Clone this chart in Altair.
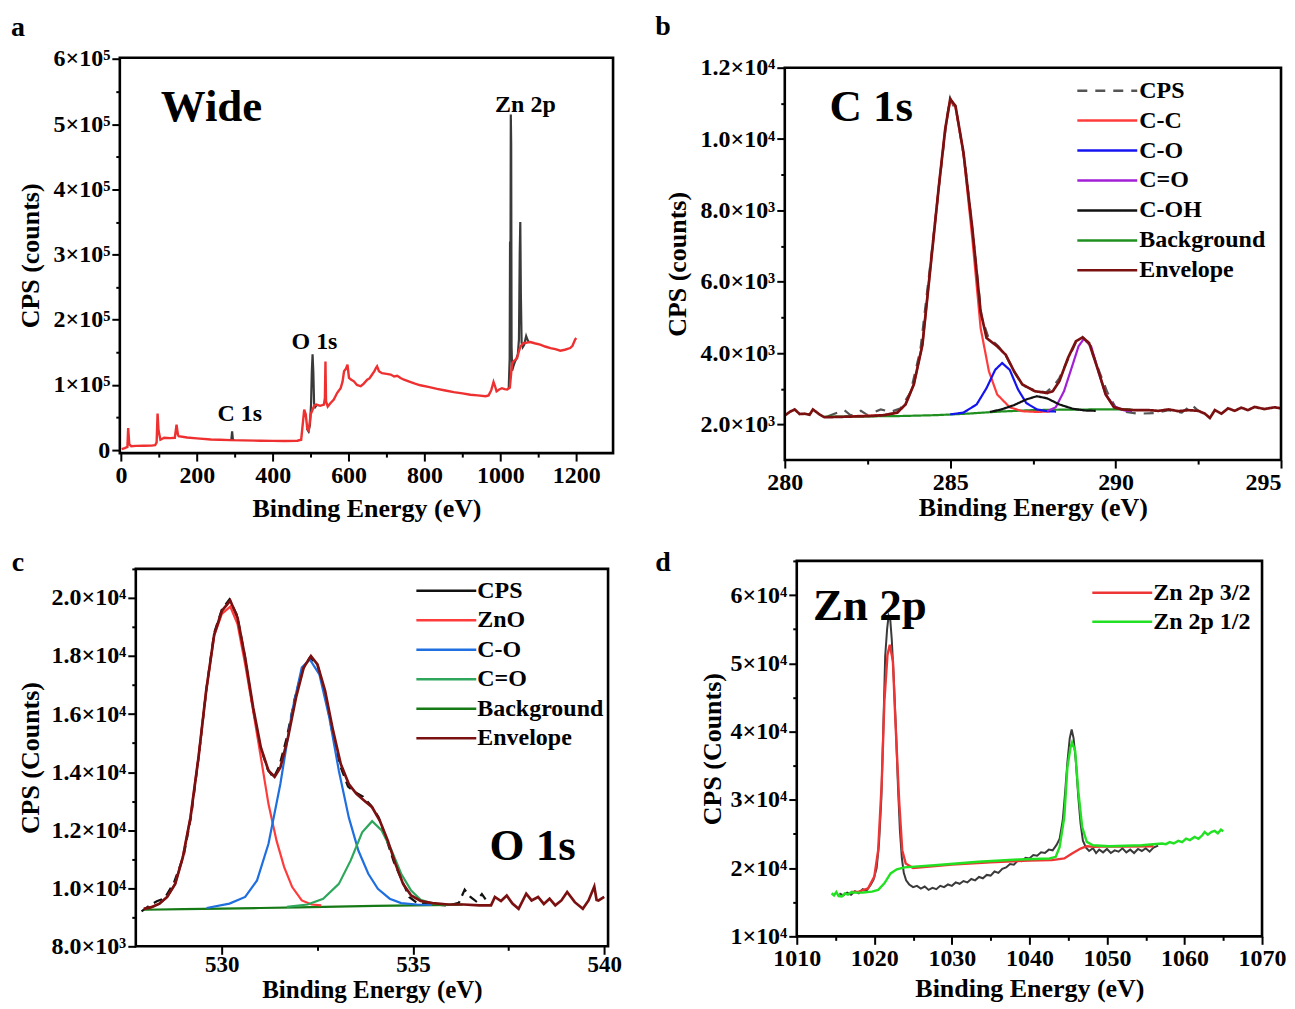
import altair as alt
import pandas as pd

FONT = "Liberation Serif"

# ===================== Panel a : wide survey =====================
A_RED = [
    (2, 1500), (10, 3000), (17, 5000), (19, 34000), (22, 9000), (27, 6100), (40, 6500), (60, 6800),
    (80, 7000), (90, 7600), (94, 12000), (96.5, 56000), (99, 30000), (104, 16000), (114, 19000),
    (130, 18500), (142, 19000), (146.5, 39000), (150, 24000), (152, 21400), (174, 19400), (200, 18000),
    (237, 16400), (260, 16000), (289, 15300), (320, 15000), (368, 14500), (400, 14200), (430, 14000),
    (465, 14500), (475, 16000), (480, 45000), (483, 62000), (487, 55000), (491, 33000), (495, 30000),
    (500, 55000), (505, 62000), (509, 68000), (515, 70000), (525, 68000), (535, 70000), (537.5, 80000),
    (539, 136000), (540.5, 75000), (545, 67000), (552, 72000), (561, 77600), (570, 88000), (579, 95000),
    (584, 105000), (588, 121000), (593, 125000), (597, 131000), (601, 110700), (607, 108000),
    (614, 105600), (622, 100000), (632, 98000), (640, 102000), (649, 108000), (655, 110000),
    (662, 116000), (668, 121000), (672, 126000), (675, 128600), (680, 121000), (688, 118000),
    (700, 117000), (711, 116000), (720, 113000), (728, 114000), (737, 110700), (746, 108000),
    (760, 105000), (775, 102000), (789, 99500), (810, 97000), (833, 94000), (855, 91500), (877, 89000),
    (900, 87000), (921, 85000), (940, 84000), (961, 82700), (969, 84000), (976, 92000), (982, 104600),
    (986, 98000), (990, 90300), (997, 93000), (1004, 95000), (1011, 93500), (1018, 93000),
    (1025, 96000), (1028, 115000), (1031, 133700), (1036, 137000), (1040, 139000), (1044, 141000),
    (1048, 150000), (1053, 159000), (1057, 162000), (1061, 164000), (1070, 165000), (1079, 165800),
    (1090, 164000), (1105, 162000), (1118, 159000), (1132, 156600), (1145, 155000), (1158, 152600),
    (1170, 154000), (1184, 156600), (1190, 160000), (1197, 169500), (1200, 172000),
]
A_BLK_C1S = [(287, 15300), (291, 16500), (293, 29000), (295, 16000), (299, 15200)]
A_BLK_O1S = [(490, 33000), (494, 29000), (498, 38000), (501, 70000), (503, 120000), (505, 147000),
             (507, 120000), (509, 72000), (512, 66000), (516, 69000)]
A_BLK_ZN = [(1022, 94000), (1024.5, 140000), (1025.5, 320000), (1026.5, 250000), (1027.5, 515000),
            (1028.5, 470000), (1029.5, 160000), (1031, 122000), (1034, 128000), (1038, 135000),
            (1042, 140000), (1046, 147000), (1049, 170000), (1051, 300000), (1052.5, 350000),
            (1054, 240000), (1056, 165000), (1059, 158000), (1063, 162000), (1066, 170000),
            (1068, 175000), (1071, 170000), (1075, 166000)]
A_BIG_TEXT = ["Wide"]
A_BIG_POS = [(105, 527000)]
A_PEAK_TEXT = ["Zn 2p", "O 1s", "C 1s"]
A_PEAK_POS = [(1066, 530000), (510, 165500), (313, 55200)]
A_XDOM = [-3, 1297]
A_YDOM = [-4500, 602000]

# ===================== Panel b : C 1s =====================
B_NAMES = ["CPS", "C-C", "C-O", "C=O", "C-OH", "Background", "Envelope"]
B_COLORS = ["#555555", "#ff3b3b", "#1414f0", "#a21fd6", "#111111", "#1f8f1f", "#7a1010"]
B_ENVELOPE = [
    (280.0, 2250), (280.15, 2350), (280.3, 2420), (280.45, 2290), (280.6, 2300), (280.75, 2270),
    (280.85, 2420), (280.95, 2350), (281.05, 2280), (281.2, 2200), (281.6, 2210), (282.0, 2220),
    (282.5, 2230), (283.0, 2260), (283.4, 2330), (283.65, 2560), (283.9, 3120), (284.16, 4230),
    (284.4, 6370), (284.66, 8700), (284.85, 10280), (285.0, 11120), (285.16, 10930), (285.4, 9630),
    (285.67, 7490), (285.92, 5160), (286.1, 4420), (286.42, 4190), (286.68, 3950), (286.93, 3490),
    (287.18, 3120), (287.56, 2930), (287.93, 2880), (288.1, 2930), (288.3, 3210), (288.56, 3860),
    (288.8, 4330), (289.0, 4440), (289.2, 4280), (289.45, 3580), (289.7, 2840), (289.95, 2480),
    (290.2, 2420), (290.6, 2400), (291.0, 2400), (291.3, 2380), (291.6, 2420), (291.9, 2370),
    (292.2, 2400), (292.5, 2380), (292.7, 2300), (292.85, 2180), (293.0, 2400), (293.2, 2300),
    (293.4, 2450), (293.6, 2380), (293.8, 2470), (294.0, 2400), (294.2, 2490), (294.5, 2430),
    (294.8, 2480), (295.0, 2450),
]
B_CPS = [
    (281.3, 2230), (281.8, 2400), (282.0, 2250), (282.3, 2380), (282.5, 2260), (282.9, 2420),
    (283.2, 2350), (283.5, 2450), (283.8, 2900), (284.1, 4100), (284.4, 6500), (284.7, 9000),
    (284.9, 10600), (285.0, 11150), (285.2, 10700), (285.45, 9300), (285.7, 7200), (285.95, 5000),
    (286.15, 4450), (286.45, 4200), (286.7, 3900), (286.95, 3450), (287.2, 3100), (287.55, 2950),
    (287.9, 2900), (288.15, 3100), (288.3, 3300), (288.6, 3900), (288.8, 4300), (289.0, 4450),
    (289.2, 4250), (289.5, 3500), (289.75, 2900), (290.0, 2480), (290.3, 2350), (290.7, 2300),
    (291.2, 2320), (291.6, 2400), (292.0, 2330), (292.3, 2550), (292.5, 2380),
]
B_CC = [(282.0, 2230), (283.0, 2260), (283.4, 2330), (283.65, 2560), (283.9, 3120), (284.16, 4230),
        (284.4, 6370), (284.66, 8700), (284.85, 10280), (285.0, 11080), (285.16, 10900), (285.4, 9600),
        (285.67, 7200), (285.92, 4700), (286.17, 3490), (286.42, 2840), (286.8, 2480), (287.18, 2370),
        (287.6, 2350), (288.0, 2360)]
B_CO = [(285.0, 2280), (285.4, 2330), (285.8, 2560), (286.1, 3020), (286.36, 3530), (286.57, 3720),
        (286.8, 3530), (287.05, 2980), (287.3, 2600), (287.62, 2420), (287.93, 2370), (288.2, 2360)]
B_COH = [(286.2, 2350), (286.55, 2420), (286.93, 2540), (287.3, 2700), (287.62, 2790), (287.93, 2730),
         (288.3, 2560), (288.7, 2440), (289.07, 2390), (289.4, 2380)]
B_CdO = [(287.93, 2370), (288.19, 2480), (288.44, 2930), (288.7, 3670), (288.88, 4190), (289.04, 4400),
         (289.26, 4190), (289.45, 3580), (289.7, 2840), (289.95, 2510), (290.26, 2390), (290.5, 2380)]
B_BG = [(281.2, 2220), (282.5, 2225), (283.5, 2235), (284.6, 2260), (285.5, 2300), (286.5, 2360),
        (287.5, 2400), (288.5, 2415), (289.5, 2420), (290.45, 2420)]
B_TEXT = ["C 1s"]
B_TEXT_POS = [(281.35, 10900)]
B_XDOM = [280, 295]
B_YDOM = [1000, 12000]

# ===================== Panel c : O 1s =====================
C_NAMES = ["CPS", "ZnO", "C-O", "C=O", "Background", "Envelope"]
C_COLORS = ["#111111", "#ff3b3b", "#1f6fe0", "#2ea65c", "#157a15", "#7a1010"]
C_ENVELOPE = [
    (527.96, 9290), (528.16, 9350), (528.37, 9470), (528.57, 9700), (528.78, 10150), (528.98, 11070),
    (529.18, 12440), (529.39, 14510), (529.59, 16800), (529.8, 18740), (530.0, 19550), (530.22, 19910),
    (530.41, 19320), (530.61, 17940), (530.82, 16220), (531.02, 14850), (531.22, 14050),
    (531.38, 13840), (531.53, 14160), (531.73, 15190), (531.94, 16570), (532.14, 17600),
    (532.33, 18000), (532.5, 17710), (532.7, 16800), (532.91, 15420), (533.11, 14280),
    (533.32, 13590), (533.52, 13250), (533.72, 13020), (533.93, 12790), (534.13, 12330),
    (534.34, 11640), (534.54, 10840), (534.74, 10150), (534.95, 9750), (535.2, 9560), (535.51, 9490),
    (535.92, 9440), (536.33, 9440), (536.73, 9410), (537.04, 9410), (537.14, 9700), (537.3, 9560),
    (537.45, 9750), (537.6, 9470), (537.76, 9290), (537.96, 9810), (538.1, 9580), (538.27, 9700),
    (538.42, 9460), (538.57, 9640), (538.72, 9410), (538.88, 9580), (539.03, 9870), (539.23, 9520),
    (539.44, 9290), (539.59, 9580), (539.74, 10060), (539.8, 9600), (539.85, 9580), (540.0, 9700),
]
C_CPS = [
    (527.9, 9200), (528.1, 9400), (528.3, 9550), (528.5, 9650), (528.75, 10200), (529.0, 11100),
    (529.2, 12500), (529.4, 14600), (529.6, 16900), (529.8, 18800), (530.0, 19600), (530.2, 19950),
    (530.4, 19400), (530.6, 18000), (530.8, 16300), (531.0, 14900), (531.2, 14100), (531.35, 13800),
    (531.5, 14200), (531.7, 15200), (531.9, 16500), (532.1, 17500), (532.3, 17950), (532.5, 17700),
    (532.7, 16700), (532.9, 15300), (533.1, 14200), (533.3, 13500), (533.5, 13300), (533.7, 13150),
    (533.9, 12850), (534.1, 12450), (534.3, 11700), (534.5, 10900), (534.7, 10300), (534.9, 9700),
    (535.1, 9500), (535.5, 9450), (535.9, 9400), (536.2, 9500), (536.35, 9950), (536.5, 9700),
    (536.65, 9550), (536.8, 9800), (537.0, 9420),
]
C_ZNO = [(527.96, 9290), (528.16, 9350), (528.37, 9470), (528.57, 9700), (528.78, 10150),
         (528.98, 11070), (529.18, 12440), (529.39, 14510), (529.59, 16800), (529.8, 18700),
         (530.0, 19450), (530.22, 19700), (530.41, 19100), (530.61, 17710), (530.82, 16100),
         (531.02, 14510), (531.22, 12900), (531.43, 11640), (531.63, 10730), (531.84, 10040),
         (532.09, 9580), (532.35, 9440), (532.6, 9410)]
C_CO = [(529.6, 9320), (530.2, 9470), (530.61, 9700), (530.92, 10270), (531.22, 11530), (531.53, 13590),
        (531.84, 16110), (532.09, 17600), (532.3, 17880), (532.55, 17370), (532.81, 15880),
        (533.06, 14050), (533.32, 12440), (533.57, 11300), (533.83, 10500), (534.08, 9980),
        (534.39, 9640), (534.69, 9490), (535.1, 9440), (535.5, 9430)]
C_CdO = [(531.7, 9360), (532.24, 9440), (532.65, 9640), (533.06, 10150), (533.37, 10960),
         (533.67, 11930), (533.93, 12310), (534.18, 11990), (534.44, 11300), (534.69, 10500),
         (534.95, 9920), (535.2, 9600), (535.51, 9470), (535.82, 9440), (536.1, 9430)]
C_BG = [(527.96, 9260), (529.0, 9280), (530.0, 9300), (531.0, 9320), (532.0, 9340), (533.0, 9370),
        (534.0, 9390), (535.0, 9410), (536.0, 9430), (536.3, 9440)]
C_TEXT = ["O 1s"]
C_TEXT_POS = [(537.0, 11470)]
C_XDOM = [527.75, 540.1]
C_YDOM = [8000, 21000]

# ===================== Panel d : Zn 2p =====================
D_NAMES = ["Zn 2p 3/2", "Zn 2p 1/2"]
D_COLORS = ["#ee3535", "#22e022"]
D_RAW = [
    (1015.5, 16300), (1016.0, 16000), (1016.5, 16400), (1017.0, 16100), (1017.5, 16600), (1018.0, 16300),
    (1018.5, 16900), (1019.0, 16700), (1019.5, 17500), (1019.9, 18300), (1020.3, 20000), (1020.6, 23500),
    (1020.9, 30000), (1021.15, 40000), (1021.4, 51000), (1021.65, 55000), (1021.85, 57000),
    (1022.05, 56500), (1022.25, 53500), (1022.5, 48000), (1022.8, 40000), (1023.05, 32000),
    (1023.3, 25500), (1023.55, 21500), (1023.8, 19300), (1024.1, 18200), (1024.5, 17600),
    (1025.0, 17200), (1025.5, 17400), (1026.0, 17000), (1026.5, 17300), (1027.0, 16800),
    (1027.5, 17100), (1028.0, 16900), (1028.5, 17400), (1029.0, 17200), (1029.5, 17600),
    (1030.0, 17400), (1030.5, 17900), (1031.0, 17700), (1031.5, 18100), (1032.0, 17900),
    (1032.5, 18400), (1033.0, 18200), (1033.5, 18700), (1034.0, 18500), (1034.5, 19000),
    (1035.0, 18900), (1035.5, 19500), (1036.0, 19300), (1036.5, 19900), (1037.0, 20100),
    (1037.5, 20600), (1038.0, 20500), (1038.5, 21100), (1039.0, 21000), (1039.5, 21500),
    (1040.0, 21400), (1040.5, 21900), (1041.0, 21800), (1041.5, 22300), (1042.0, 22200),
    (1042.5, 22700), (1043.0, 22600), (1043.5, 23400), (1043.9, 24300), (1044.3, 27000),
    (1044.6, 31000), (1044.9, 35500), (1045.2, 39000), (1045.45, 40300), (1045.7, 39000),
    (1046.0, 35500), (1046.3, 30500), (1046.6, 26500), (1046.9, 24000), (1047.3, 23000),
    (1047.7, 22500), (1048.2, 22900), (1048.6, 22200), (1049.0, 22700), (1049.5, 22300),
    (1050.0, 22800), (1050.5, 22200), (1051.0, 22600), (1051.5, 22400), (1052.0, 22900),
    (1052.5, 22300), (1053.0, 22700), (1053.5, 22200), (1054.0, 22800), (1054.5, 22500),
    (1055.0, 22900), (1055.5, 22400), (1056.0, 23000), (1056.6, 23300),
]
D_P32 = [(1017.0, 16500), (1018.0, 16550), (1019.2, 17040), (1020.0, 18740), (1020.5, 22620),
         (1020.95, 32330), (1021.3, 44470), (1021.7, 51260), (1022.0, 52720), (1022.4, 50290),
         (1022.7, 42040), (1023.2, 29900), (1023.6, 22620), (1024.05, 20680), (1025.0, 20000),
         (1030.0, 20500), (1035.0, 20850), (1040.0, 21100), (1042.9, 21170), (1044.5, 21410),
         (1045.5, 22140), (1046.6, 22860), (1047.4, 23200), (1048.4, 23110), (1049.2, 23150),
         (1052.0, 23150), (1056.0, 23200)]
D_P12 = [(1014.5, 16310), (1014.8, 16000), (1015.1, 16500), (1015.4, 15900), (1015.8, 15830),
         (1016.2, 16300), (1016.6, 16100), (1017.0, 16450), (1017.6, 16410), (1018.5, 16420),
         (1019.7, 16550), (1020.5, 16800), (1021.3, 17770), (1022.1, 19220), (1022.9, 19810),
         (1023.9, 20100), (1028.2, 20440), (1033.4, 20920), (1038.7, 21260), (1042.6, 21410),
         (1043.4, 21650), (1043.9, 23110), (1044.5, 27480), (1044.9, 34760), (1045.3, 37670),
         (1045.5, 38400), (1045.9, 37180), (1046.3, 31360), (1046.8, 26020), (1047.4, 23830),
         (1048.2, 23350), (1050.3, 23200), (1054.5, 23350), (1057.1, 23590), (1057.6, 23500),
         (1058.1, 23800), (1058.6, 23600), (1059.2, 23980), (1059.7, 23800), (1060.2, 24300),
         (1060.7, 24100), (1061.3, 24560), (1061.8, 24300), (1062.3, 24800), (1062.6, 25290),
         (1063.0, 24900), (1063.5, 25300), (1063.9, 25440), (1064.3, 25100), (1064.7, 25630),
         (1065.0, 25400)]
D_TEXT = ["Zn 2p"]
D_TEXT_POS = [(1012.1, 58400)]
D_XDOM = [1010, 1070]
D_YDOM = [10000, 65000]


# ===================== helpers =====================
def frame(points, name="", field="s", seg=0):
    return pd.DataFrame({"E": [p[0] for p in points], "v": [p[1] for p in points],
                         field: name, "seg": seg, "i": list(range(len(points)))})


def text_frame(texts, pos):
    return pd.DataFrame({"t": texts, "E": [p[0] for p in pos], "v": [p[1] for p in pos]})


def axis(values, major_test, label_expr, title, title_pad, orient, offset=0, label_align=None,
         label_pad=2, label_size=24, title_size=26):
    kw = dict(values=values, labelExpr=label_expr, title=title, titlePadding=title_pad,
              orient=orient, offset=offset, labelPadding=label_pad,
              labelFontSize=label_size, titleFontSize=title_size,
              tickSize={"condition": {"test": "!(" + major_test + ")", "value": 4}, "value": 8})
    if label_align:
        kw["labelAlign"] = label_align
    return alt.Axis(**kw)


def legend(lx, ly, row_pad, label_offset):
    return alt.Legend(title=None, orient="none", legendX=lx, legendY=ly,
                      symbolType="M-1,0H9", symbolSize=144, symbolStrokeWidth=2.5,
                      labelFont=FONT, labelFontSize=24, labelFontWeight="bold", labelColor="black",
                      labelOffset=label_offset, rowPadding=row_pad, padding=0)


def letter(ch, x, y):
    return alt.Chart(pd.DataFrame({"t": [ch]})).mark_text(
        font=FONT, fontWeight="bold", fontSize=28, align="center", baseline="middle", color="black"
    ).encode(text="t:N", x=alt.value(x), y=alt.value(y))


def big_text(df, X, Y, size=45, align="left"):
    return alt.Chart(df).mark_text(font=FONT, fontWeight="bold", fontSize=size, align=align,
                                   baseline="middle", color="black").encode(x=X("E"), y=Y("v"), text="t:N")


def box(xdom, ydom, X, Y):
    # plot frame drawn through the panel's own scales at the domain extremes
    df = pd.DataFrame({"x1": [xdom[0]], "x2": [xdom[1]], "y1": [ydom[0]], "y2": [ydom[1]]})
    return alt.Chart(df).mark_rect(filled=False, stroke="black", strokeWidth=2.6, color="black").encode(
        x=X("x1"), x2="x2:Q", y=Y("y1"), y2="y2:Q")


def make_xy(xdom, ydom, xrange_, yrange_, ax, ay):
    xs = alt.Scale(domain=xdom, range=xrange_, nice=False, zero=False)
    ys = alt.Scale(domain=ydom, range=yrange_, nice=False, zero=False)
    return (lambda f: alt.X(f + ":Q", scale=xs, axis=ax, title=ax["title"])), \
           (lambda f: alt.Y(f + ":Q", scale=ys, axis=ay, title=ay["title"]))


# ===================== panel a =====================  (view 494 x 396)
ax_a = axis(list(range(0, 1301, 100)), "datum.value % 200 == 0",
            "datum.value % 200 == 0 ? format(datum.value, 'd') : ''",
            "Binding Energy (eV)", 9, "bottom")
ay_a = axis(list(range(0, 600001, 50000)), "datum.value % 100000 == 0",
            "datum.value % 100000 != 0 ? '' : (datum.value == 0 ? '0' : format(datum.value/100000, 'd') + '×10⁵')",
            "CPS (counts)", 10, "left")
XA, YA = make_xy(A_XDOM, A_YDOM, [0, 494], [396, 0], ax_a, ay_a)

a_black = pd.concat([frame(A_BLK_C1S, seg=0), frame(A_BLK_O1S, seg=1), frame(A_BLK_ZN, seg=2)])
layer_a = alt.layer(
    alt.Chart(a_black).mark_line(color="#3a3a3a", strokeWidth=2.2, clip=True).encode(
        x=XA("E"), y=YA("v"), detail="seg:N", order="i:Q"),
    alt.Chart(frame(A_RED)).mark_line(color="#ee3030", strokeWidth=2.4, clip=True).encode(
        x=XA("E"), y=YA("v"), order="i:Q"),
    box(A_XDOM, A_YDOM, XA, YA),
    big_text(text_frame(A_BIG_TEXT, A_BIG_POS), XA, YA, 45),
    big_text(text_frame(A_PEAK_TEXT, A_PEAK_POS), XA, YA, 24, "center"),
    letter("a", -102, -30),
    alt.Chart(pd.DataFrame({"k": [0]})).mark_rule(opacity=0, strokeWidth=0.01).encode(
        x=alt.value(-111), x2=alt.value(-110), y=alt.value(-48), y2=alt.value(-47)),
).properties(width=494, height=396, view=alt.ViewBackground(stroke="transparent"))

# ===================== panel b =====================  (view 497 x 403, plot top at 10)
ax_b = axis([280, 282.5, 285, 287.5, 290, 292.5, 295], "datum.value % 5 == 0",
            "datum.value % 5 == 0 ? format(datum.value, 'd') : ''",
            "Binding Energy (eV)", 1, "bottom",
            label_align={"condition": {"test": "datum.value == 295", "value": "right"}, "value": "center"})
ay_b = axis(list(range(2000, 12001, 1000)), "datum.value % 2000 == 0",
            "datum.value % 2000 != 0 ? '' : (datum.value >= 10000 ? format(datum.value/10000, '.1f') + '×10⁴' : format(datum.value/1000, '.1f') + '×10³')",
            "CPS (counts)", 10, "left")
XB, YB = make_xy(B_XDOM, B_YDOM, [0, 497], [403, 10], ax_b, ay_b)
leg_b = legend(287, 21, 6, 44)
CB = alt.Color("sb:N", scale=alt.Scale(domain=B_NAMES, range=B_COLORS), legend=leg_b)
DB = alt.StrokeDash("sb:N", scale=alt.Scale(domain=B_NAMES,
                                            range=[[10, 8], [1, 0], [1, 0], [1, 0], [1, 0], [1, 0], [1, 0]]),
                    legend=leg_b)


def b_line(points, name, width=2.2):
    return alt.Chart(frame(points, name, "sb")).mark_line(strokeWidth=width, clip=True).encode(
        x=XB("E"), y=YB("v"), color=CB, strokeDash=DB, order="i:Q")


layer_b = alt.layer(
    b_line(B_CPS, "CPS"), b_line(B_BG, "Background"), b_line(B_CC, "C-C"), b_line(B_CO, "C-O"),
    b_line(B_CdO, "C=O"), b_line(B_COH, "C-OH"), b_line(B_ENVELOPE, "Envelope", 2.7),
    box(B_XDOM, B_YDOM, XB, YB),
    big_text(text_frame(B_TEXT, B_TEXT_POS), XB, YB, 45),
    letter("b", -122, -31),
).properties(width=497, height=403, view=alt.ViewBackground(stroke="transparent"))

# ===================== panel c =====================  (view 489 x 386, plot from x=16, y=8)
ax_c = axis([530, 532.5, 535, 537.5, 540], "datum.value % 5 == 0",
            "datum.value % 5 == 0 ? format(datum.value, 'd') : ''",
            "Binding Energy (eV)", 1, "bottom", label_pad=-1, label_size=23, title_size=25)
ay_c = axis(list(range(8000, 21001, 1000)), "datum.value % 2000 == 0",
            "datum.value % 2000 != 0 ? '' : (datum.value >= 10000 ? format(datum.value/10000, '.1f') + '×10⁴' : format(datum.value/1000, '.1f') + '×10³')",
            "CPS (Counts)", 8, "left", offset=-16)
XC, YC = make_xy(C_XDOM, C_YDOM, [16, 489], [386, 8], ax_c, ay_c)
CC = alt.Color("sc:N", scale=alt.Scale(domain=C_NAMES, range=C_COLORS), legend=legend(291, 18, 5.5, 43))


def c_line(points, name, dash=None, width=2.2):
    kw = dict(strokeWidth=width, clip=True)
    if dash:
        kw["strokeDash"] = dash
    return alt.Chart(frame(points, name, "sc")).mark_line(**kw).encode(
        x=XC("E"), y=YC("v"), color=CC, order="i:Q")


layer_c = alt.layer(
    c_line(C_CPS, "CPS", [9, 6]), c_line(C_BG, "Background"), c_line(C_ZNO, "ZnO"), c_line(C_CO, "C-O"),
    c_line(C_CdO, "C=O"), c_line(C_ENVELOPE, "Envelope", width=2.7),
    box(C_XDOM, C_YDOM, XC, YC),
    big_text(text_frame(C_TEXT, C_TEXT_POS), XC, YC, 45),
    letter("c", -102, 2),
).properties(width=489, height=386, view=alt.ViewBackground(stroke="transparent"))

# ===================== panel d =====================  (view 478 x 376, plot from x=12)
ax_d = axis(list(range(1010, 1071, 5)), "datum.value % 10 == 0",
            "datum.value % 10 == 0 ? format(datum.value, 'd') : ''",
            "Binding Energy (eV)", 5, "bottom")
ay_d = axis(list(range(10000, 65001, 5000)), "datum.value % 10000 == 0",
            "datum.value % 10000 != 0 ? '' : format(datum.value/10000, 'd') + '×10⁴'",
            "CPS (Counts)", 5, "left", offset=-12)
XD, YD = make_xy(D_XDOM, D_YDOM, [12, 478], [376, 0], ax_d, ay_d)
CD = alt.Color("sd:N", scale=alt.Scale(domain=D_NAMES, range=D_COLORS), legend=legend(302, 20, 5, 43))

layer_d = alt.layer(
    alt.Chart(frame(D_RAW)).mark_line(color="#3a3a3a", strokeWidth=2, clip=True).encode(
        x=XD("E"), y=YD("v"), order="i:Q"),
    alt.Chart(frame(D_P32, "Zn 2p 3/2", "sd")).mark_line(strokeWidth=2.4, clip=True).encode(
        x=XD("E"), y=YD("v"), color=CD, order="i:Q"),
    alt.Chart(frame(D_P12, "Zn 2p 1/2", "sd")).mark_line(strokeWidth=2.4, clip=True).encode(
        x=XD("E"), y=YD("v"), color=CD, order="i:Q"),
    box(D_XDOM, D_YDOM, XD, YD),
    big_text(text_frame(D_TEXT, D_TEXT_POS), XD, YD, 45),
    letter("d", -122, 2),
).properties(width=478, height=376, view=alt.ViewBackground(stroke="transparent"))

# ===================== layout =====================
chart = alt.concat(
    layer_a, layer_b, layer_c, layer_d, columns=2, spacing={"row": 101, "column": 172},
    align="each", bounds="flush"
).resolve_scale(
    color="independent", strokeDash="independent"
).properties(padding=0).configure_view(
    stroke="transparent"
).configure_axis(
    domain=False, grid=False, labelFont=FONT, labelFontWeight="bold",
    labelColor="black", titleFont=FONT, titleFontWeight="bold", titleColor="black",
    tickColor="black", tickWidth=2, labelOverlap=False, labelFlush=False
).configure_legend(
    orient="none"
)

chart.save("out.html", embed_options={"renderer": "svg", "actions": False})
